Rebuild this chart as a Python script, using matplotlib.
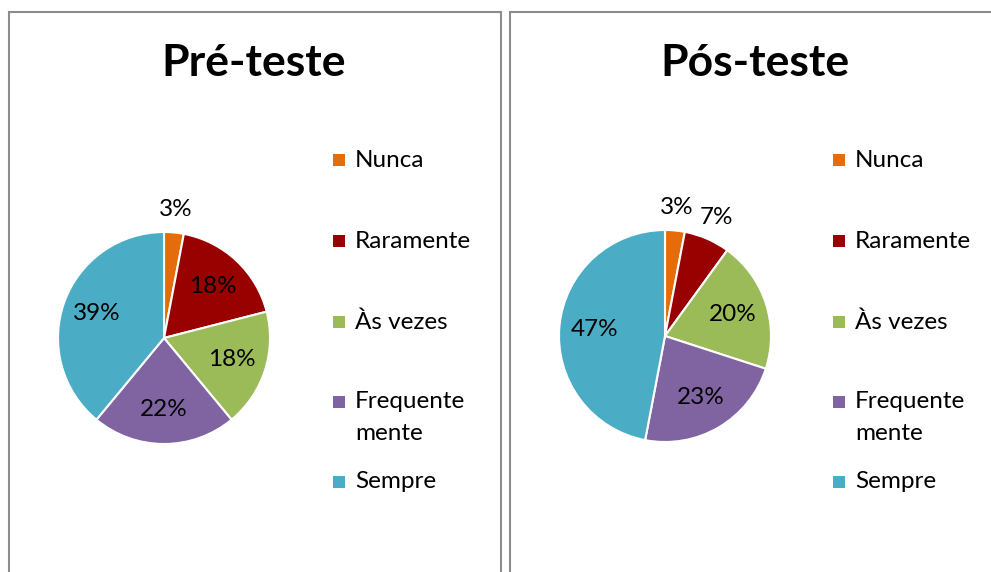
import numpy as np
import matplotlib.pyplot as plt
from matplotlib.patches import Rectangle

plt.rcParams['font.family'] = ['Lato', 'DejaVu Sans']

# data
categorias = ["Nunca", "Raramente", "Às vezes", "Frequente\nmente", "Sempre"]
pre_teste = [3, 18, 18, 22, 39]
pos_teste = [3, 7, 20, 23, 47]
titulos = ["Pré-teste", "Pós-teste"]
cores = ["#E46C0A", "#990000", "#9BBB59", "#8064A2", "#4BACC6"]

W, H = 991, 572
fig = plt.figure(figsize=(W / 100, H / 100), dpi=100)

def fx(px):
    return px / W

def fy(py):
    return 1 - py / H

# panel borders (pixel layout)
paineis = [(9, 12, 492, 580), (510, 12, 500, 580)]
for (x0, y0, w, h) in paineis:
    fig.patches.append(Rectangle((fx(x0), fy(y0 + h)), w / W, h / H,
                                 transform=fig.transFigure, fill=False,
                                 edgecolor="#8c8c8c", linewidth=1.5))

centros = [(164, 338), (665, 336)]
raio = 106
titulo_x = [254, 755]
legenda_x = [333, 833]
legenda_y = [160, 241, 322, 402, 482]

for i, valores in enumerate([pre_teste, pos_teste]):
    cx, cy = centros[i]
    ax = fig.add_axes([fx(cx - raio), fy(cy + raio), 2 * raio / W, 2 * raio / H])
    wedges, _ = ax.pie(valores, colors=cores, startangle=90, counterclock=False,
                       wedgeprops=dict(edgecolor="white", linewidth=1.5))
    ax.set_xlim(-1, 1)
    ax.set_ylim(-1, 1)
    ax.axis("off")

    # percent labels
    total = sum(valores)
    acum = 0
    for v in valores:
        meio = np.deg2rad(90 - (acum + v / 2) / total * 360)
        acum += v
        r = 1.22 if v < 10 else 0.67
        ax.text(r * np.cos(meio), r * np.sin(meio), f"{v}%", ha="center", va="center",
                fontsize=17.5, color="black", clip_on=False)

    fig.text(fx(titulo_x[i]), fy(63), titulos[i], ha="center", va="center",
             fontsize=32, fontweight="bold")

    # legend
    for j, cat in enumerate(categorias):
        yy = legenda_y[j]
        fig.patches.append(Rectangle((fx(legenda_x[i]), fy(yy + 6)), 12 / W, 12 / H,
                                     transform=fig.transFigure, facecolor=cores[j],
                                     edgecolor="none"))
        for k, linha in enumerate(cat.split("\n")):
            fig.text(fx(legenda_x[i] + 22), fy(yy + k * 32), linha, ha="left",
                     va="center", fontsize=17.5)

fig.savefig("out.png", dpi=100)
